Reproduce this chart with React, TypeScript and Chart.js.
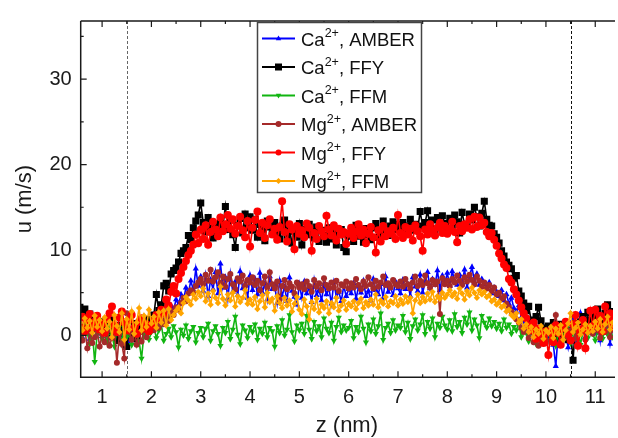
import React, { useEffect, useRef } from "react";
import { Chart, registerables } from "chart.js";

Chart.register(...registerables);

// sampling grid of the profiles (nm)
const zStart = 0.55;
const zStep = 0.05;

// u (m/s) profiles
const caAmber = [
  0.3, -0.2, 1.0, 0.6, -0.4, 0.8, 1.2, 0.2, 0.9, -0.1,
  0.5, 1.1, -0.3, 0.7, 1.4, 0.0, 0.9, -0.6, 0.4, 1.2, -1.0, 0.6, 0.2, 1.3, -0.5, 0.8, 0.3, 1.0, 0.5, 1.5,
  0.9, 1.8, 1.2, 2.4, 1.6, 2.9, 2.2, 3.5, 3.0, 4.2, 3.6, 4.8, 4.1, 5.6, 5.0, 6.4, 5.3, 7.8, 5.8, 6.9,
  5.2, 7.1, 4.6, 6.5, 5.4, 7.4, 4.9, 8.4, 5.6, 6.8, 4.3, 7.2, 5.1, 6.3, 4.7, 7.5, 5.5, 6.0, 4.4, 7.0,
  5.3, 6.6, 4.8, 7.3, 5.0, 6.1, 4.2, 6.9, 5.4, 5.9, 3.8, 6.4, 4.6, 5.7, 4.0, 6.8, 5.2, 4.5, 3.6, 6.0,
  4.4, 6.3, 4.9, 5.6, 3.9, 6.5, 4.7, 5.3, 4.1, 6.0, 4.8, 5.5, 3.7, 6.2, 4.5, 5.1, 4.0, 5.8, 4.6, 5.4,
  4.9, 6.1, 4.3, 5.7, 5.0, 6.4, 4.6, 5.2, 4.1, 6.6, 5.3, 4.8, 6.0, 4.4, 6.9, 5.1, 5.6, 4.7, 6.3, 5.5,
  4.9, 6.5, 5.4, 6.0, 4.6, 6.8, 5.7, 5.2, 7.1, 5.0, 6.2, 7.4, 5.5, 6.6, 5.9, 7.6, 5.3, 7.0, 6.1, 7.3,
  5.8, 7.5, 6.4, 5.9, 7.1, 6.2, 7.7, 5.6, 6.9, 8.0, 6.3, 7.2, 5.9, 6.6, 6.0, 5.5, 6.2, 4.9, 5.6, 5.1,
  4.6, 5.3, 4.1, 4.8, 3.7, 4.4, 3.2, 2.8, 3.5, 2.1, 1.5, 2.0, 0.9, 0.3, 1.1, -0.4, 0.5, 0.1, -0.7, 0.6,
  -0.3, 0.8, -1.1, -3.6, 0.4, -0.5, 1.0, 0.2, -1.4, 0.7, 1.9, -0.8, 0.5, 2.6, 0.9, -0.2, 1.3, 0.6, 1.8, 0.3,
  1.5, -0.6, 2.4, 0.8, 1.2, -1.0, 0.9, 1.6,
];

const caFFY = [
  3.3, 2.6, 3.1, 2.2, 2.5, 1.4, 2.0, 0.8, 1.6, 1.2,
  0.4, 1.5, 0.2, 1.8, 0.9, -0.6, 1.2, 0.3, -1.0, -1.3, 0.6, 0.2, 1.4, -0.4, 1.0, 0.5, 1.6, 0.8, 1.9, 1.2,
  2.4, 4.8, 2.9, 3.6, 5.8, 6.1, 5.2, 7.2, 7.6, 7.9, 8.6, 9.6, 9.9, 10.3, 11.7, 11.2, 12.6, 13.4, 14.1, 15.5,
  13.2, 12.1, 13.8, 12.5, 11.4, 13.0, 12.2, 13.6, 12.8, 15.1, 12.4, 13.5, 11.8, 10.3, 12.9, 13.7, 12.0, 14.2, 12.6, 13.9,
  12.3, 13.6, 11.5, 13.0, 12.4, 11.1, 13.4, 12.7, 11.9, 13.2, 12.0, 11.3, 12.8, 13.5, 11.6, 12.5, 10.8, 12.2, 11.5, 13.1,
  10.6, 12.4, 11.8, 13.0, 12.1, 11.4, 12.7, 11.0, 12.3, 11.7, 10.9, 12.6, 11.3, 12.0, 10.6, 11.8, 12.4, 10.3, 9.8, 11.6,
  12.2, 11.0, 12.9, 11.6, 12.3, 10.9, 12.5, 11.8, 11.2, 12.6, 13.1, 11.5, 12.2, 13.4, 12.0, 11.7, 12.8, 13.3, 12.4, 13.0,
  12.6, 13.2, 11.9, 12.8, 13.6, 12.3, 13.0, 12.5, 14.5, 12.8, 13.2, 14.6, 12.6, 13.5, 11.9, 13.8, 12.9, 14.0, 13.1, 12.4,
  13.7, 12.5, 14.1, 13.3, 12.0, 14.4, 13.0, 12.7, 14.2, 13.5, 15.0, 13.9, 12.8, 14.3, 15.7, 13.6, 12.9, 12.8, 11.9, 11.5,
  10.8, 9.9, 9.3, 8.6, 8.2, 7.8, 6.7, 7.0, 5.2, 4.6, 3.8, 2.9, 3.4, 1.8, 1.6, 2.2, 3.3, 1.7, 0.9, 0.4,
  1.1, 0.2, 1.5, -0.3, 0.8, 1.3, 0.1, 0.9, -0.5, 0.6, -2.9, 1.4, 0.7, 1.6, 2.2, 1.0, 2.7, 1.8, 1.3, 2.3,
  3.1, 2.0, 1.4, 2.6, 3.6, 1.9, 2.8, 1.5,
];

const caFFM = [
  0.8, -0.5, 1.2, 0.3, -1.0, 0.6, -3.1, 0.2, 0.9, -0.4,
  0.5, -0.8, 1.1, 0.0, -1.3, 0.7, 0.2, -0.6, 0.9, -0.2, 0.4, -1.1, 0.6, 0.1, -0.7, -2.7, 0.3, 0.8, -0.5, 0.4,
  1.0, -0.3, 0.6, 1.3, -0.6, 0.2, 0.8, -0.2, 1.1, 0.4, -1.4, 0.7, 0.0, 1.2, -0.4, 0.5, 1.0, -0.8, 0.3, 0.9,
  -0.2, 0.8, 1.4, -0.6, 0.5, 1.1, 0.2, -1.2, 0.9, 0.3, 1.6, -0.4, 0.7, 2.2, 0.1, -1.0, 1.2, 0.6, -0.3, 1.0,
  0.4, 1.3, -0.5, 0.8, 0.2, 1.5, -0.2, 0.9, 0.5, -1.3, 1.1, 0.3, 1.8, 0.0, 0.7, 2.4, 0.4, -0.7, 1.2, 0.6,
  1.4, 0.2, 2.3, 0.7, -0.4, 1.6, 0.5, 1.1, -0.2, 2.0, 0.8, 0.3, 1.5, -0.6, 1.0, 2.1, 0.4, 1.2, 0.6, 0.9,
  1.7, -0.3, 1.0, 0.4, 2.2, 0.8, -0.8, 1.3, 0.5, 1.9, 0.2, 1.1, 2.6, -0.5, 0.9, 1.4, 0.3, 1.8, 0.6, 1.2,
  0.9, 2.3, 0.4, 1.5, -0.4, 1.1, 1.9, 0.6, 1.3, 2.4, 0.2, 1.6, 0.8, 2.0, -0.2, 1.4, 0.9, 2.2, 1.2, 0.7,
  1.8, 0.5, 2.5, 1.0, 1.6, 0.3, 2.1, 1.3, 2.7, 0.6, 1.9, 1.2, -0.3, 2.3, 1.5, 0.9, 2.0, 1.1, 1.6, 0.8,
  1.4, 0.5, 1.9, 0.9, 1.3, 0.2, 1.0, 0.6, 1.5, -0.2, 0.8, 0.3, -0.7, 0.5, 0.1, -1.0, 0.4, -0.3, 0.6, -0.8,
  0.2, -0.5, 0.7, -1.2, 0.3, 0.9, -0.4, 0.1, 1.3, -0.9, 0.5, -0.2, 0.8, -1.1, 0.4, 1.0, -0.3, 0.6, 0.2, -0.6,
  0.5, 1.2, -0.4, 0.7, 0.1, 0.9, -0.2, 0.4,
];

const mgAmber = [
  0.2, -0.6, 0.8, -1.5, 0.4, -0.9, -0.2, 0.6, -1.3, 0.1,
  -0.8, 0.5, -1.2, -0.3, 0.7, -3.2, 0.2, -1.0, -2.7, 2.6, 0.4, -0.5, 1.0, -1.1, 0.3, -0.7, 0.8, -0.2, 0.5, 1.2,
  0.6, 1.4, 0.9, 1.8, 1.3, 2.2, 1.7, 2.9, 2.4, 3.3, 3.0, 3.8, 4.4, 4.0, 4.9, 5.3, 5.0, 5.8, 6.2, 6.6,
  6.0, 7.1, 6.4, 7.7, 6.3, 6.8, 7.4, 6.1, 6.9, 5.7, 6.6, 7.2, 6.0, 5.4, 6.7, 6.3, 7.0, 5.8, 6.5, 6.2,
  6.8, 5.9, 6.4, 5.3, 6.1, 6.9, 5.6, 7.4, 6.0, 5.5, 6.3, 4.2, 5.8, 6.5, 5.4, 6.1, 5.7, 4.9, 6.2, 5.6,
  6.0, 5.4, 6.3, 5.8, 5.1, 6.5, 5.7, 6.1, 5.3, 6.7, 5.9, 5.5, 6.2, 5.6, 6.4, 5.2, 6.0, 5.8, 6.3, 5.5,
  6.1, 5.6, 6.6, 5.9, 5.4, 6.3, 5.8, 6.8, 6.0, 5.5, 6.4, 5.7, 6.2, 6.9, 5.9, 6.1, 5.6, 6.5, 6.0, 5.8,
  6.3, 5.7, 6.6, 6.0, 5.5, 6.2, 6.9, 5.8, 6.4, 5.9, 7.0, 6.1, 5.6, 6.5, 6.0, 6.3, 2.5, 6.7, 6.0, 6.4,
  5.8, 6.6, 6.2, 7.0, 6.4, 5.9, 6.8, 6.3, 7.1, 6.5, 6.0, 6.9, 6.4, 5.7, 6.2, 5.5, 5.9, 5.2, 5.6, 4.8,
  5.0, 4.3, 4.6, 3.7, 3.3, 2.8, 2.4, 1.9, 1.5, 0.9, 0.4, 1.0, -0.3, 0.5, -0.8, 0.2, -1.2, -0.5, 0.3, -0.9,
  0.4, -0.6, 1.1, 2.4, 0.2, -0.7, 0.8, 1.5, -0.2, 0.6, 1.2, -0.4, 0.9, 0.3, 1.6, -0.5, 0.7, 1.0, 0.2, 1.4,
  0.6, -0.3, 1.1, 0.4, 1.5, -0.2, 0.8, 0.5,
];

const mgFFY = [
  1.0, 2.2, 0.5, 1.8, 2.5, 0.9, 1.6, 2.3, 0.7, 1.4,
  0.3, 1.9, 2.6, 3.4, 1.2, 0.4, 2.1, 2.8, 1.5, 0.6, 1.8, 2.4, 0.9, 0.2, 1.6, 2.0, 0.8, 1.3, 0.5, 1.1,
  1.7, 2.4, 1.9, 3.0, 2.6, 4.2, 3.5, 5.1, 5.8, 4.9, 6.6, 7.3, 8.0, 8.7, 9.4, 9.9, 10.6, 11.8, 10.8, 12.4,
  11.3, 12.9, 10.6, 12.1, 13.3, 12.4, 11.6, 13.8, 12.2, 13.0, 14.1, 12.5, 13.6, 11.9, 12.8, 13.9, 12.3, 11.5, 13.4, 10.4,
  12.6, 13.5, 14.5, 12.0, 13.2, 11.4, 12.9, 13.6, 11.8, 12.5, 11.2, 12.7, 15.7, 12.1, 11.0, 13.0, 12.4, 10.1, 12.8, 11.9,
  12.3, 11.5, 13.1, 12.6, 9.9, 12.0, 11.3, 12.8, 12.2, 11.6, 14.0, 12.4, 11.7, 12.9, 11.1, 12.5, 11.8, 12.1, 10.7, 11.9,
  12.6, 11.4, 12.2, 13.0, 11.7, 12.4, 10.8, 11.9, 12.7, 11.5, 9.7, 12.3, 11.0, 12.8, 11.6, 12.2, 11.9, 12.6, 11.3, 14.1,
  12.0, 11.4, 12.7, 11.8, 12.5, 11.1, 12.9, 12.2, 11.6, 9.9, 12.4, 11.8, 13.0, 12.3, 11.7, 12.6, 13.2, 12.0, 12.8, 11.9,
  12.5, 13.3, 12.1, 10.9, 12.8, 12.2, 13.0, 12.6, 13.6, 12.4, 13.9, 12.7, 13.8, 12.9, 13.2, 12.1, 11.6, 12.0, 11.2, 10.5,
  9.6, 9.0, 8.3, 7.9, 6.6, 6.2, 5.4, 4.8, 4.1, 3.3, 2.6, 2.0, 1.2, 0.6, 1.5, -0.4, 0.8, 0.2, -0.9, 0.5,
  -2.3, 0.4, -0.8, 1.2, 0.3, -1.1, 0.9, 1.6, 0.1, -0.6, 1.3, 2.4, -1.2, 0.7, 1.8, -1.5, 0.6, 2.9, 1.1, 3.0,
  1.4, 2.3, 0.5, 3.4, 1.8, 2.6, 1.0, 2.0,
];

const mgFFM = [
  1.5, 0.6, 2.0, 0.9, 1.7, 0.3, 2.3, 1.0, 1.8, 0.5,
  2.1, 0.8, 1.6, -0.2, 2.4, 1.1, 0.4, 2.6, -0.5, 1.9, 0.7, 2.8, 0.2, 1.5, 3.2, 0.6, 2.3, 1.0, 3.0, 1.4,
  2.2, 0.9, 2.7, 1.5, 2.9, 1.2, 3.1, 1.8, 2.4, 2.9, 3.3, 2.6, 3.8, 4.5, 4.1, 3.6, 4.8, 4.3, 5.1, 4.6,
  5.5, 4.0, 4.9, 3.6, 5.2, 4.4, 3.8, 5.7, 4.3, 3.5, 4.8, 4.1, 5.0, 3.4, 4.6, 3.9, 4.4, 5.3, 3.7, 4.2,
  3.6, 4.5, 3.1, 4.0, 4.7, 3.3, 5.0, 3.9, 4.3, 2.9, 4.6, 3.8, 3.2, 4.4, 3.5, 4.1, 2.8, 3.7, 4.5, 3.0,
  2.5, 4.2, 3.4, 1.9, 3.9, 3.1, 4.3, 2.7, 3.6, 3.2, 4.0, 2.6, 3.8, 3.3, 4.4, 2.9, 3.5, 4.1, 3.0, 3.7,
  3.4, 4.0, 3.1, 3.8, 4.3, 3.2, 3.9, 3.5, 4.2, 3.6, 4.8, 3.3, 4.1, 3.7, 4.5, 3.4, 4.0, 3.8, 4.6, 3.5,
  4.2, 3.7, 4.6, 3.9, 4.4, 2.6, 4.1, 4.8, 3.8, 4.5, 4.0, 4.9, 4.2, 5.1, 3.9, 4.6, 4.3, 5.0, 4.4, 4.8,
  5.3, 4.6, 5.0, 4.3, 5.5, 4.9, 4.2, 5.2, 4.7, 5.6, 5.0, 4.4, 5.3, 4.8, 5.1, 4.5, 4.7, 4.0, 4.2, 3.6,
  3.9, 3.3, 3.5, 2.8, 3.0, 2.4, 2.1, 2.6, 1.5, 1.9, 0.8, 1.3, 0.4, 1.0, -0.2, 0.7, 0.2, 1.1, -0.4, 0.6,
  0.3, 1.0, -0.3, 0.8, 0.2, 1.2, -0.5, 0.6, 1.4, 2.6, 0.4, 0.9, 1.5, 0.1, 0.7, 1.3, 0.3, 1.1, 0.5, 1.6,
  0.8, 1.9, 0.4, 1.3, 2.2, 0.7, 1.5, 1.0,
];

// axes
const xMin = 0.566;
const xMax = 11.36;
const yMin = -4.9;
const yMax = 36.8;
const xMajorTicks = [1, 2, 3, 4, 5, 6, 7, 8, 9, 10, 11];
const yMajorTicks = [0, 10, 20, 30];
const dashedZ = [1.5, 10.5];
const xTitle = "z (nm)";
const yTitle = "u (m/s)";

type SeriesDef = {
  ion: string;
  ff: string;
  data: number[];
  color: string;
  style: string;
  radius: number;
  rotation: number;
  order: number;
};

const series: SeriesDef[] = [
  { ion: "Ca", ff: ", AMBER", data: caAmber, color: "#0000ff", style: "triangle", radius: 3.6, rotation: 0, order: 5 },
  { ion: "Ca", ff: ", FFY", data: caFFY, color: "#000000", style: "rect", radius: 5, rotation: 0, order: 4 },
  { ion: "Ca", ff: ", FFM", data: caFFM, color: "#11b511", style: "triangle", radius: 3.6, rotation: 180, order: 3 },
  { ion: "Mg", ff: ", AMBER", data: mgAmber, color: "#a52a2a", style: "circle", radius: 3, rotation: 0, order: 2 },
  { ion: "Mg", ff: ", FFY", data: mgFFY, color: "#ff0000", style: "circle", radius: 4, rotation: 0, order: 1 },
  { ion: "Mg", ff: ", FFM", data: mgFFM, color: "#ffa500", style: "rectRot", radius: 3.2, rotation: 0, order: 0 },
];

const FONT = '"Liberation Sans", Arial, Helvetica, sans-serif';
const AXIS_COLOR = "#1a1a1a";

function drawMarker(ctx: CanvasRenderingContext2D, s: SeriesDef, x: number, y: number, r: number) {
  ctx.save();
  ctx.fillStyle = s.color;
  ctx.beginPath();
  if (s.style === "triangle") {
    const dir = s.rotation === 180 ? -1 : 1;
    ctx.moveTo(x, y - dir * r);
    ctx.lineTo(x - r * 0.9, y + dir * r * 0.6);
    ctx.lineTo(x + r * 0.9, y + dir * r * 0.6);
    ctx.closePath();
  } else if (s.style === "rect") {
    ctx.rect(x - r, y - r, 2 * r, 2 * r);
  } else if (s.style === "rectRot") {
    ctx.moveTo(x, y - r);
    ctx.lineTo(x + r, y);
    ctx.lineTo(x, y + r);
    ctx.lineTo(x - r, y);
    ctx.closePath();
  } else {
    ctx.arc(x, y, r, 0, Math.PI * 2);
  }
  ctx.fill();
  ctx.restore();
}

const decorPlugin = {
  id: "decor",
  beforeDatasetsDraw(chart: any) {
    const { ctx, chartArea } = chart;
    const xs = chart.scales.x;
    ctx.save();
    dashedZ.forEach((z, i) => {
      const px = Math.round(xs.getPixelForValue(z)) + 0.5;
      ctx.strokeStyle = i === 0 ? "#666" : "#111";
      ctx.lineWidth = 1;
      ctx.setLineDash([3, 2]);
      ctx.beginPath();
      ctx.moveTo(px, chartArea.top);
      ctx.lineTo(px, chartArea.bottom);
      ctx.stroke();
    });
    ctx.restore();
  },
  afterDatasetsDraw(chart: any) {
    const { ctx, chartArea } = chart;
    const xs = chart.scales.x;
    const ys = chart.scales.y;
    const { left, right, top, bottom } = chartArea;
    ctx.save();
    ctx.strokeStyle = AXIS_COLOR;
    ctx.lineWidth = 1.5;
    ctx.setLineDash([]);
    ctx.beginPath();
    ctx.moveTo(left, top);
    ctx.lineTo(right + 2, top);
    ctx.moveTo(left, top);
    ctx.lineTo(left, bottom);
    ctx.lineTo(right + 2, bottom);
    ctx.stroke();

    // x ticks (bottom & top, inward)
    ctx.lineWidth = 1.2;
    ctx.beginPath();
    for (let v = 0.5; v <= xMax; v += 0.5) {
      if (v < xMin) continue;
      const px = xs.getPixelForValue(v);
      const major = Math.abs(v - Math.round(v)) < 1e-6;
      const len = major ? 6 : 3;
      ctx.moveTo(px, bottom);
      ctx.lineTo(px, bottom - len);
      ctx.moveTo(px, top);
      ctx.lineTo(px, top + len);
    }
    // y ticks (left, inward)
    for (let v = -5; v <= yMax; v += 5) {
      if (v < yMin) continue;
      const py = ys.getPixelForValue(v);
      const major = v % 10 === 0;
      const len = major ? 6 : 3;
      ctx.moveTo(left, py);
      ctx.lineTo(left + len, py);
    }
    ctx.stroke();

    // axis titles
    ctx.fillStyle = AXIS_COLOR;
    ctx.font = `22px ${FONT}`;
    ctx.textAlign = "center";
    ctx.textBaseline = "middle";
    ctx.fillText(xTitle, (left + right) / 2, 426);
    ctx.save();
    ctx.translate(25, (top + bottom) / 2);
    ctx.rotate(-Math.PI / 2);
    ctx.fillText(yTitle, 0, 0);
    ctx.restore();

    // legend
    const bx = 257.5, by = 22.5, bw = 164, bh = 170;
    ctx.fillStyle = "#ffffff";
    ctx.fillRect(bx, by, bw, bh);
    ctx.strokeStyle = "#444";
    ctx.lineWidth = 1.5;
    ctx.strokeRect(bx, by, bw, bh);
    series.forEach((s, i) => {
      const cy = 38.5 + i * 28.5;
      ctx.strokeStyle = s.color;
      ctx.lineWidth = 1.8;
      ctx.beginPath();
      ctx.moveTo(262, cy);
      ctx.lineTo(295, cy);
      ctx.stroke();
      drawMarker(ctx, s, 278.5, cy, s.style === "rect" ? 3.5 : 3);
      ctx.fillStyle = "#111";
      ctx.textAlign = "left";
      ctx.textBaseline = "alphabetic";
      ctx.font = `18.5px ${FONT}`;
      let tx = 301;
      ctx.fillText(s.ion, tx, cy + 7);
      tx += ctx.measureText(s.ion).width;
      ctx.font = `12.5px ${FONT}`;
      ctx.fillText("2+", tx, cy - 1.5);
      tx += ctx.measureText("2+").width;
      ctx.font = `18.5px ${FONT}`;
      ctx.fillText(s.ff, tx, cy + 7);
    });
    ctx.restore();
  },
};

export default function App() {
  const canvasRef = useRef<HTMLCanvasElement | null>(null);

  useEffect(() => {
    document.body.style.margin = "0";
    const canvas = canvasRef.current;
    if (!canvas) return;
    const datasets = series.map((s) => ({
      label: s.ion + "2+" + s.ff,
      data: s.data.map((v, i) => ({ x: zStart + i * zStep, y: v })),
      borderColor: s.color,
      backgroundColor: s.color,
      pointBackgroundColor: s.color,
      pointBorderColor: s.color,
      pointBorderWidth: 0,
      pointStyle: s.style,
      pointRotation: s.rotation,
      pointRadius: s.radius,
      borderWidth: 1.6,
      tension: 0,
      order: s.order,
    }));
    const chart = new Chart(canvas, {
      type: "line",
      data: { datasets },
      options: {
        responsive: false,
        devicePixelRatio: 1,
        animation: false,
        events: [],
        layout: { padding: { top: 12.7, right: 0, left: 0, bottom: 0 } },
        plugins: { legend: { display: false }, tooltip: { enabled: false } },
        scales: {
          x: {
            type: "linear",
            min: xMin,
            max: xMax,
            afterFit: (s: any) => {
              s.height = 60.7;
            },
            afterBuildTicks: (s: any) => {
              s.ticks = xMajorTicks.map((v) => ({ value: v }));
            },
            grid: { display: false, drawTicks: false },
            border: { display: false },
            ticks: {
              autoSkip: false,
              maxRotation: 0,
              padding: 8,
              color: AXIS_COLOR,
              font: { size: 20, family: FONT },
            },
          },
          y: {
            type: "linear",
            min: yMin,
            max: yMax,
            afterFit: (s: any) => {
              s.width = 80.7;
            },
            afterBuildTicks: (s: any) => {
              s.ticks = yMajorTicks.map((v) => ({ value: v }));
            },
            grid: { display: false, drawTicks: false },
            border: { display: false },
            ticks: {
              padding: 9,
              color: AXIS_COLOR,
              font: { size: 20, family: FONT },
            },
          },
        },
      },
      plugins: [decorPlugin],
    } as any);
    return () => chart.destroy();
  }, []);

  return (
    <div style={{ width: 618, height: 438 }}>
      <canvas ref={canvasRef} width={618} height={438} style={{ display: "block" }} />
    </div>
  );
}
